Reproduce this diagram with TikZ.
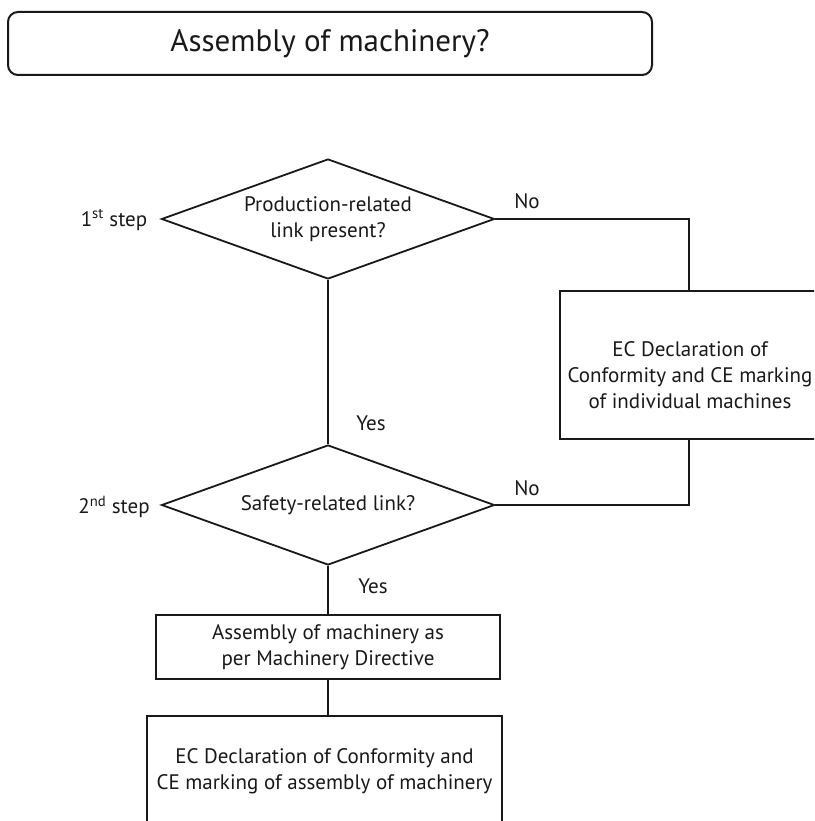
\documentclass[tikz,border=0pt]{standalone}
\usepackage{fontspec}
\setmainfont{PT Sans}
\usetikzlibrary{shapes.geometric,calc}
\begin{document}
\begin{tikzpicture}[x=1pt,y=-1pt,
  every node/.style={font=\fontsize{21}{26}\selectfont, text=black!90},
  lin/.style={line width=1.8pt, draw=black!90},
  dia/.style={draw, lin, diamond, aspect=2.775, minimum width=333pt, minimum height=120pt, inner sep=0pt, align=center},
  boxx/.style={draw, lin, rectangle, inner sep=0pt, align=center},
  lbl/.style={inner sep=0pt}]
\useasboundingbox (0,0) rectangle (814,821);
\clip (0,0) rectangle (814,821);
\fill[white] (0,0) rectangle (814,821);

\node[draw, line width=2pt, draw=black!90, rounded corners=10pt, minimum width=644pt, minimum height=63pt, inner sep=0pt, font=\fontsize{31}{37}\selectfont] (title) at (330,43.5) {Assembly of machinery?};

\node[dia] (d1) at (328,219) {Production-related\\link present?};
\node[dia] (d2) at (328,505) {Safety-related link?};

\node[boxx, minimum width=260pt, minimum height=148pt] (rbox) at (690,365) {};
\node[inner sep=0pt, align=center] (rtext) at (690,375) {EC Declaration of\\Conformity and CE marking\\of individual machines};

\node[boxx, minimum width=344pt, minimum height=64pt] (b3) at (328,647) {Assembly of machinery as\\per Machinery Directive};
\node[boxx, minimum width=355pt, minimum height=111pt] (b4) at (324.5,771.5) {EC Declaration of Conformity and\\CE marking of assembly of machinery};

\node[lbl] (s1) at (114,220) {1\textsuperscript{st} step};
\node[lbl] (s2) at (114,507) {2\textsuperscript{nd} step};
\node[lbl] (no1) at (527,201) {No};
\node[lbl] (no2) at (527,488) {No};
\node[lbl] (yes1) at (371,423) {Yes};
\node[lbl] (yes2) at (373,586) {Yes};

\coordinate (c1) at (689,0);
\draw[lin] (d1.south) -- (d2.north);
\draw[lin] (d1.east) -| (rbox.north -| c1);
\draw[lin] (rbox.south -| c1) |- (d2.east);
\draw[lin] (d2.south) -- (b3.north);
\draw[lin] (b3.south) -- (b3.south |- b4.north);
\end{tikzpicture}
\end{document}
